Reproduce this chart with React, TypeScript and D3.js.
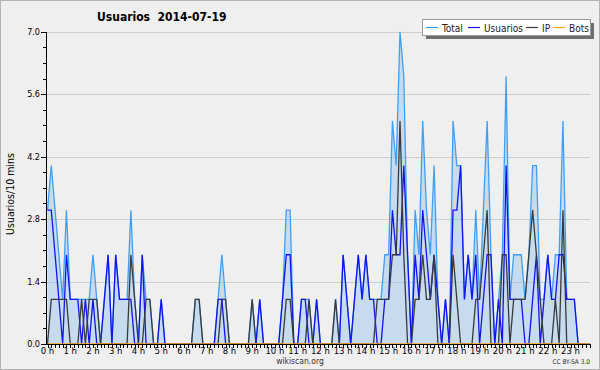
import { useEffect, useRef } from "react";
import * as d3 from "d3";

// one value every 10 minutes, 0 h .. 23 h 50
const total = [
  3, 4, 3, 2, 1, 3, 1, 1, 1, 1, 1, 1,
  2, 1, 0, 1, 2, 0, 2, 1, 1, 1, 3, 1,
  0, 2, 1, 1, 0, 0, 1, 0, 0, 0, 0, 0,
  0, 0, 0, 1, 1, 0, 0, 0, 0, 1, 2, 1,
  0, 0, 0, 0, 0, 0, 1, 0, 1, 0, 0, 0,
  0, 0, 1, 3, 3, 0, 0, 1, 1, 1, 0, 1,
  0, 0, 0, 0, 1, 0, 2, 1, 0, 1, 2, 1,
  2, 1, 1, 1, 1, 2, 2, 5, 4, 7, 6, 2,
  0, 3, 2, 5, 3, 2, 4, 1, 0, 1, 0, 5,
  4, 4, 1, 2, 1, 3, 1, 3, 5, 2, 0, 1,
  2, 6, 1, 2, 2, 2, 1, 2, 4, 4, 1, 1,
  2, 1, 2, 2, 5, 1, 1, 1, 0, 0, 0, 0,
];

const usuarios = [
  3, 3, 2, 1, 0, 2, 1, 1, 1, 0, 1, 0,
  1, 0, 0, 1, 2, 0, 2, 1, 1, 1, 1, 0,
  0, 2, 0, 0, 0, 0, 1, 0, 0, 0, 0, 0,
  0, 0, 0, 0, 0, 0, 0, 0, 0, 1, 1, 0,
  0, 0, 0, 0, 0, 0, 0, 0, 1, 0, 0, 0,
  0, 0, 1, 2, 2, 0, 0, 1, 1, 0, 0, 1,
  0, 0, 0, 0, 0, 0, 2, 1, 0, 1, 2, 1,
  2, 1, 1, 0, 0, 1, 1, 3, 2, 2, 4, 2,
  0, 2, 1, 3, 2, 1, 2, 1, 0, 1, 0, 3,
  3, 4, 1, 2, 1, 2, 0, 1, 2, 2, 0, 1,
  0, 4, 1, 1, 1, 1, 0, 0, 1, 2, 0, 1,
  2, 1, 1, 2, 2, 1, 1, 1, 0, 0, 0, 0,
];

const ip = [
  0, 1, 1, 1, 1, 1, 0, 0, 0, 1, 0, 1,
  1, 1, 0, 0, 0, 0, 0, 0, 0, 0, 2, 1,
  0, 0, 1, 1, 0, 0, 0, 0, 0, 0, 0, 0,
  0, 0, 0, 1, 1, 0, 0, 0, 0, 0, 1, 1,
  0, 0, 0, 0, 0, 0, 1, 0, 0, 0, 0, 0,
  0, 0, 0, 1, 1, 0, 0, 0, 0, 1, 0, 0,
  0, 0, 0, 0, 1, 0, 0, 0, 0, 0, 0, 0,
  0, 0, 0, 1, 1, 1, 1, 2, 2, 5, 2, 0,
  0, 1, 1, 2, 1, 1, 2, 0, 0, 0, 0, 2,
  1, 0, 0, 0, 0, 1, 1, 2, 3, 0, 0, 0,
  2, 2, 0, 1, 1, 1, 1, 2, 3, 2, 1, 0,
  0, 0, 1, 0, 3, 0, 0, 0, 0, 0, 0, 0,
];

const bots = [
  0, 0, 0, 0, 0, 0, 0, 0, 0, 0, 0, 0,
  0, 0, 0, 0, 0, 0, 0, 0, 0, 0, 0, 0,
  0, 0, 0, 0, 0, 0, 0, 0, 0, 0, 0, 0,
  0, 0, 0, 0, 0, 0, 0, 0, 0, 0, 0, 0,
  0, 0, 0, 0, 0, 0, 0, 0, 0, 0, 0, 0,
  0, 0, 0, 0, 0, 0, 0, 0, 0, 0, 0, 0,
  0, 0, 0, 0, 0, 0, 0, 0, 0, 0, 0, 0,
  0, 0, 0, 0, 0, 0, 0, 0, 0, 0, 0, 0,
  0, 0, 0, 0, 0, 0, 0, 0, 0, 0, 0, 0,
  0, 0, 0, 0, 0, 0, 0, 0, 0, 0, 0, 0,
  0, 0, 0, 0, 0, 0, 0, 0, 0, 0, 0, 0,
  0, 0, 0, 0, 0, 0, 0, 0, 0, 0, 0, 0,
];

const hourLabels = [
  "0 h", "1 h", "2 h", "3 h", "4 h", "5 h", "6 h", "7 h", "8 h", "9 h", "10 h", "11 h",
  "12 h", "13 h", "14 h", "15 h", "16 h", "17 h", "18 h", "19 h", "20 h", "21 h", "22 h", "23 h",
];
const yTicks = [0, 1.4, 2.8, 4.2, 5.6, 7.0];
const seriesNames = ["Total", "Usuarios", "IP", "Bots"];

const colors = ["#3f9ff5", "#1212f2", "#3a3a3a", "#ffa31a"];
const FONT = "'DejaVu Sans Condensed', 'DejaVu Sans', sans-serif";

const App = () => {
  const ref = useRef<SVGSVGElement>(null);

  useEffect(() => {
    const svg = d3.select(ref.current);
    svg.selectAll("*").remove();

    const W = 600, H = 370;
    const M = { left: 46, right: 590, top: 31.7, bottom: 344 };
    const n = total.length;

    const x = d3.scaleLinear().domain([0, n - 1]).range([47.5, 589.5]);
    const y = d3.scaleLinear().domain([0, 7]).range([M.bottom, M.top]);

    svg.append("rect")
      .attr("x", 0.5).attr("y", 0.5)
      .attr("width", W - 1).attr("height", H - 1)
      .attr("fill", "#efefef").attr("stroke", "#b4b4b4");

    // grid
    svg.append("g").selectAll("line")
      .data(yTicks.filter(d => d > 0))
      .join("line")
      .attr("x1", M.left).attr("x2", M.right)
      .attr("y1", d => Math.round(y(d)) + 0.5).attr("y2", d => Math.round(y(d)) + 0.5)
      .attr("stroke", "#cdcdcd");

    const lineGen = d3.line<number>()
      .x((d, i) => x(i))
      .y(d => y(d));

    const areaGen = d3.area<number>()
      .x((d, i) => x(i))
      .y0(y(0))
      .y1(d => y(d));

    svg.append("path")
      .attr("d", areaGen(total))
      .attr("fill", "#a0c8f0")
      .attr("fill-opacity", 0.5);

    [total, usuarios, ip, bots].forEach((s, k) => {
      svg.append("path")
        .attr("d", lineGen(s))
        .attr("fill", "none")
        .attr("stroke", colors[k])
        .attr("stroke-width", 1.3)
        .attr("stroke-linejoin", "miter");
    });

    // axes
    const ax = svg.append("g").attr("stroke", "#000").attr("shape-rendering", "crispEdges");
    ax.append("line").attr("x1", M.left).attr("x2", M.left).attr("y1", M.top).attr("y2", M.bottom + 0.5);
    ax.append("line").attr("x1", M.left).attr("x2", M.right).attr("y1", M.bottom + 0.5).attr("y2", M.bottom + 0.5);

    const minor = d3.range(0, 7.001, 0.35);
    ax.selectAll(".ym").data(minor).join("line")
      .attr("x1", M.left - 3).attr("x2", M.left)
      .attr("y1", d => Math.round(y(d)) + 0.5).attr("y2", d => Math.round(y(d)) + 0.5);
    ax.selectAll(".yM").data(yTicks).join("line")
      .attr("x1", M.left - 5).attr("x2", M.left)
      .attr("y1", d => Math.round(y(d)) + 0.5).attr("y2", d => Math.round(y(d)) + 0.5);

    ax.selectAll(".xt").data(d3.range(n)).join("line")
      .attr("x1", i => Math.round(x(i)) + 0.5).attr("x2", i => Math.round(x(i)) + 0.5)
      .attr("y1", M.bottom).attr("y2", M.bottom + 4);

    svg.append("g").selectAll("text").data(yTicks).join("text")
      .attr("x", 40).attr("y", d => y(d) + 3)
      .attr("text-anchor", "end")
      .attr("font-family", FONT).attr("font-size", 9)
      .text(d => d.toFixed(1));

    svg.append("g").selectAll("text").data(hourLabels).join("text")
      .attr("x", (d, h) => x(h * 6))
      .attr("y", 354)
      .attr("text-anchor", "middle")
      .attr("font-family", FONT).attr("font-size", 9.5)
      .text(d => d);

    svg.append("text")
      .attr("transform", "translate(14,194) rotate(-90)")
      .attr("text-anchor", "middle")
      .attr("font-family", FONT).attr("font-size", 10.5)
      .text("Usuarios/10 mins");

    svg.append("text")
      .attr("x", 97).attr("y", 21)
      .attr("font-family", FONT).attr("font-size", 12).attr("font-weight", "bold")
      .attr("xml:space", "preserve")
      .text("Usuarios  2014-07-19");

    // legend
    const lg = svg.append("g");
    lg.append("rect").attr("x", 426).attr("y", 23).attr("width", 168).attr("height", 16).attr("fill", "#6e6e6e");
    lg.append("rect").attr("x", 422.5).attr("y", 19.5).attr("width", 168).attr("height", 16)
      .attr("fill", "#fff").attr("stroke", "#9a9a9a");
    const lx = [426, 468, 526, 553];
    seriesNames.forEach((s, k) => {
      lg.append("line").attr("x1", lx[k]).attr("x2", lx[k] + 12).attr("y1", 27.5).attr("y2", 27.5)
        .attr("stroke", colors[k]).attr("stroke-width", 1.2);
      lg.append("text").attr("x", lx[k] + 16).attr("y", 31.5)
        .attr("font-family", FONT).attr("font-size", 10).attr("fill", "#222")
        .text(s);
    });

    svg.append("text")
      .attr("x", 300).attr("y", 364).attr("text-anchor", "middle")
      .attr("font-family", FONT).attr("font-size", 8.5).attr("fill", "#333")
      .text("wikiscan.org");
    svg.append("text")
      .attr("x", 590).attr("y", 364).attr("text-anchor", "end")
      .attr("font-family", FONT).attr("font-size", 6.5).attr("fill", "#333")
      .text("CC BY-SA 3.0");
  }, []);

  return (
    <div>
      <style>{`body{margin:0}`}</style>
      <svg ref={ref} width={600} height={370} style={{ display: "block" }}></svg>
    </div>
  );
};

export default App;
